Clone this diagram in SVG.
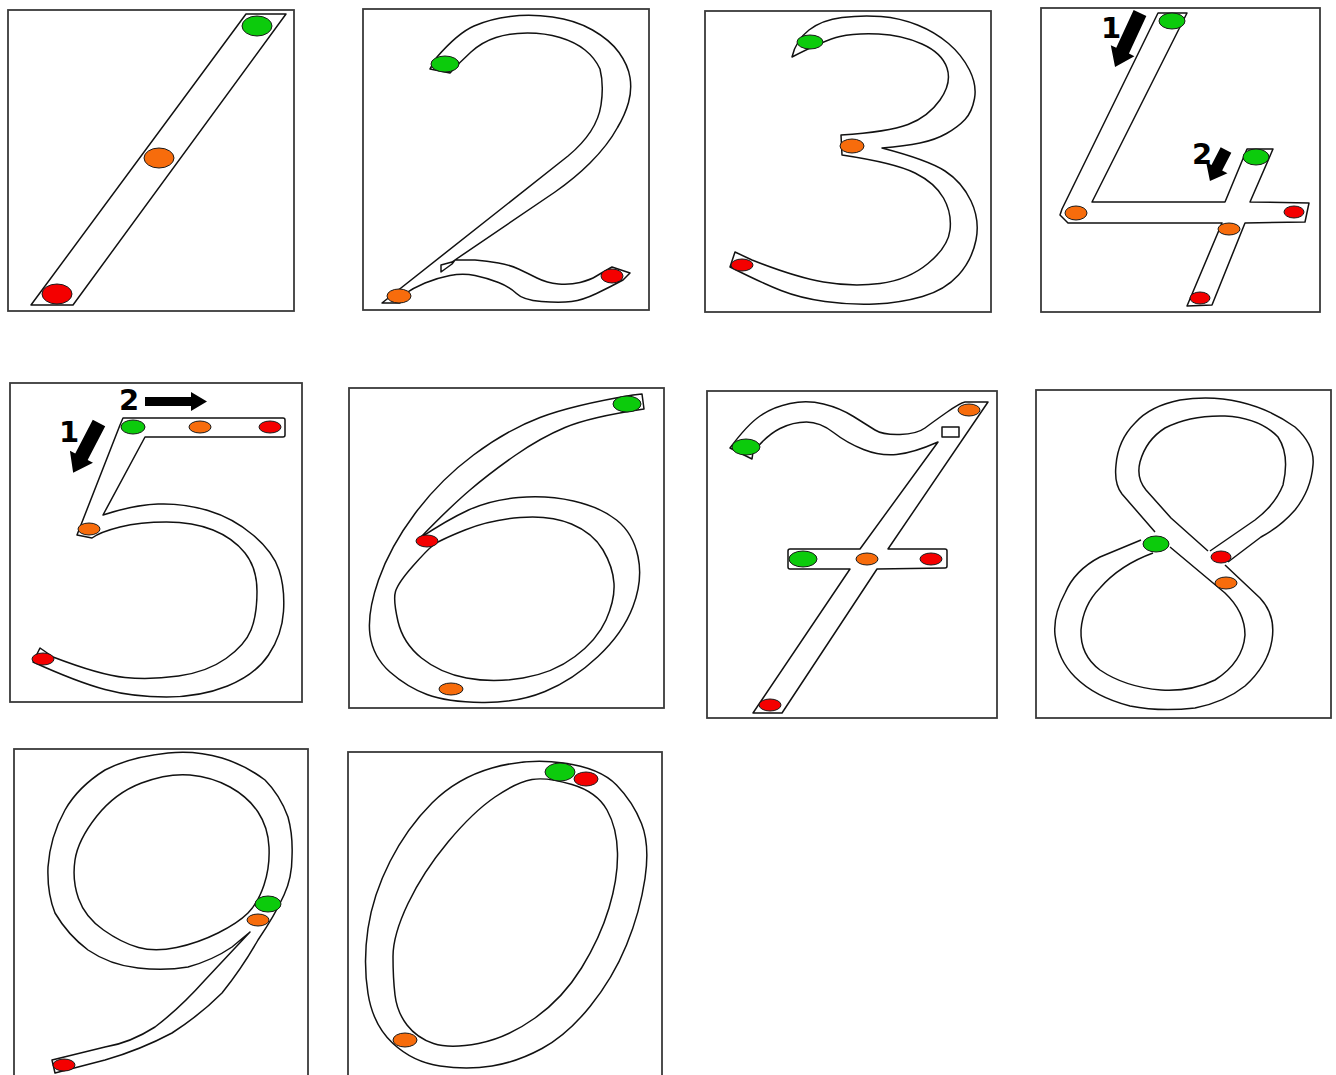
<svg xmlns="http://www.w3.org/2000/svg" width="1336" height="1075" viewBox="0 0 1336 1075">
<style>
.frame{fill:#fff;stroke:#3a3a3a;stroke-width:1.8}
.shape{fill:#fff;stroke:#111;stroke-width:1.5;stroke-linejoin:round}
.line{fill:none;stroke:#111;stroke-width:1.5;stroke-linejoin:round}
.g{fill:#0ccb0c;stroke:#1a1a1a;stroke-width:1}
.o{fill:#f76c0c;stroke:#1a1a1a;stroke-width:1}
.r{fill:#f40000;stroke:#1a1a1a;stroke-width:1}
.arrow{fill:#000}
.num{font-family:"DejaVu Sans","Liberation Sans",sans-serif;font-weight:bold;font-size:29px;fill:#000}
</style>
<rect width="1336" height="1075" fill="#fff"/>

<g id="digit-1">
<rect class="frame" x="8" y="10" width="286" height="301"/>
<polygon class="shape" points="246,14 286,14 73,305 31,305"/>
<ellipse class="g" cx="257" cy="26" rx="15" ry="10"/>
<ellipse class="o" cx="159" cy="158" rx="15" ry="10"/>
<ellipse class="r" cx="57" cy="294" rx="15" ry="10"/>
</g>

<g id="digit-2">
<rect class="frame" x="363" y="9" width="286" height="301"/>
<path class="shape" d="M430,69 L437,57 Q458,33 474,26 Q490,19 510,16.5 Q530,14 552.5,17 Q575,20 592.5,30 Q610,40 619,52.5 Q628,65 630,77.5 Q632,90 628.5,102.5 Q625,115 617.5,127.5 Q608,145 590,163 Q575,178 555,192 L452,262 L441,265 L441,272 L452,264 L455,260 L475,260 Q487,261 498.5,263 Q510,265 518.5,269 Q527,273 537,278 Q547,283 558.5,284 Q570,285 580,282.5 Q590,280 596.5,276 Q603,272 612,267 L630,273 L623,280 Q610,287 596.5,293.5 Q583,300 571.5,301.5 Q560,303 541.5,301.5 Q523,300 516.5,293.5 Q510,287 498.5,282.5 Q487,278 475,275.5 Q463,273 450,275.5 Q437,278 425,283 Q413,288 403,295 L400,303 L382,303 L568,156 Q597,132 601,105 Q604,85 600,69 Q595,58 585,50 Q575,42 560,37.5 Q545,33 527.5,33 Q510,33 496,37.5 Q482,42 471,52 Q460,62 450,73 Z"/>
<ellipse class="g" cx="445" cy="64" rx="14" ry="8"/>
<ellipse class="o" cx="399" cy="296" rx="12" ry="7"/>
<ellipse class="r" cx="612" cy="276" rx="11" ry="7"/>
</g>

<g id="digit-3">
<rect class="frame" x="705" y="11" width="286" height="301"/>
<path class="shape" d="M792,57 Q796,40 809,30 Q822,20 842,17.5 Q862,15 881,16.5 Q900,18 917.5,25 Q935,32 948.5,43.5 Q962,55 969.5,70 Q977,85 974.5,98.5 Q972,112 965,119.5 Q958,127 946.5,133.5 Q935,140 920,143 Q905,146 882,148 Q928,160 945,171 Q962,182 971,201 Q980,220 976,240 Q972,260 958.5,275 Q945,290 922.5,296.5 Q900,303 875,304 Q850,305 825,301.5 Q800,298 781,290.5 Q762,283 730,267 L735,252 L752,260 Q795,277 823.5,282 Q852,287 880,283.5 Q908,280 928,263.5 Q948,247 950,230 Q952,213 943.5,198 Q935,183 915,173 Q895,163 842,155 L841,135 Q888,132 908,124.5 Q928,117 940,100 Q952,83 947,68 Q942,53 922,44 Q902,35 878.5,34 Q855,33 840,36.5 Q825,40 792,57 Z"/>
<ellipse class="g" cx="810" cy="42" rx="13" ry="7"/>
<ellipse class="o" cx="852" cy="146" rx="12" ry="7"/>
<ellipse class="r" cx="742" cy="265" rx="11" ry="6"/>
</g>

<g id="digit-4">
<rect class="frame" x="1041" y="8" width="279" height="304"/>
<polygon class="shape" points="1158,13 1187,13 1092,202 1225,202 1247,149 1273,149 1250,202 1309,203 1305,222 1245,223 1212,305 1187,306 1222,223 1068,223 1060,215 1062,209"/>
<ellipse class="g" cx="1172" cy="21" rx="13" ry="8"/>
<ellipse class="g" cx="1256" cy="157" rx="13" ry="8"/>
<ellipse class="o" cx="1076" cy="213" rx="11" ry="7"/>
<ellipse class="r" cx="1294" cy="212" rx="10" ry="6"/>
<ellipse class="o" cx="1229" cy="229" rx="11" ry="6"/>
<ellipse class="r" cx="1200" cy="298" rx="10" ry="6"/>
<text class="num" x="1111" y="38" text-anchor="middle">1</text>
<polygon class="arrow" transform="translate(1140,13) rotate(114.8)" points="0,-7 41.5,-7 41.5,-13 59.5,0 41.5,13 41.5,7 0,7"/>
<text class="num" x="1202" y="164" text-anchor="middle">2</text>
<polygon class="arrow" transform="translate(1226,150) rotate(117.3)" points="0,-6 20,-6 20,-12 35,0 20,12 20,6 0,6"/>
</g>

<g id="digit-5">
<rect class="frame" x="10" y="383" width="292" height="319"/>
<path class="shape" d="M123,418 L283,418 Q285,418 285,420 L285,435 Q285,437 283,437 L145,437 L103,515 Q133,505 158,504 Q183,503 208,510.5 Q233,518 253,535 Q273,552 279,570 Q285,588 283.5,611.5 Q282,635 268.5,655 Q255,675 227.5,686 Q200,697 166.5,697 Q133,697 105,689.5 Q77,682 33,662 L40,648 L53,657 Q100,675 125,677.5 Q150,680 178.5,676 Q207,672 226,658.5 Q245,645 251,630 Q257,615 257,591.5 Q257,568 245,553 Q233,538 213,530 Q193,522 166.5,522 Q140,522 120,527 Q100,532 92,538 L77,535 L120,425 Z"/>
<ellipse class="g" cx="133" cy="427" rx="12" ry="7"/>
<ellipse class="o" cx="200" cy="427" rx="11" ry="6"/>
<ellipse class="r" cx="270" cy="427" rx="11" ry="6"/>
<ellipse class="o" cx="89" cy="529" rx="11" ry="6"/>
<ellipse class="r" cx="43" cy="659" rx="11" ry="6"/>
<text class="num" x="129" y="410" text-anchor="middle">2</text>
<polygon class="arrow" points="145,397 191,397 191,392 207,401.5 191,411 191,406 145,406"/>
<text class="num" x="69" y="442" text-anchor="middle">1</text>
<polygon class="arrow" transform="translate(99,423) rotate(117.5)" points="0,-7 38,-7 38,-13 56,0 38,13 38,7 0,7"/>
</g>

<g id="digit-6">
<rect class="frame" x="349" y="388" width="315" height="320"/>
<path class="shape" d="M633,395 Q573,405 540,417.5 Q507,430 473.5,455 Q440,480 415,513.5 Q390,547 378.5,580 Q367,613 370,635 Q373,657 390,672 Q407,687 427,694.5 Q447,702 482,702.5 Q517,703 545,691.5 Q573,680 598,656.5 Q623,633 633,606.5 Q643,580 638,556.5 Q633,533 616.5,520 Q600,507 573.5,501 Q547,495 518.5,497.5 Q490,500 468.5,510 Q447,520 420,538 Q450,507 470,490 Q490,473 515,455.5 Q540,438 565,427.5 Q590,417 644,409 L642,394 Z"/>
<path class="shape" d="M433.5,545 Q440,540 465,530 Q490,520 520,517.5 Q550,515 571.5,524 Q593,533 603,550 Q613,567 614,583.5 Q615,600 606,620 Q597,640 575,656.5 Q553,673 523,678 Q493,683 466.5,678 Q440,673 421.5,658 Q403,643 398,621.5 Q393,600 395.5,591.5 Q398,583 412.5,566.5 Q427,550 433.5,545 Z"/>
<ellipse class="g" cx="627" cy="404" rx="14" ry="8"/>
<ellipse class="r" cx="427" cy="541" rx="11" ry="6"/>
<ellipse class="o" cx="451" cy="689" rx="12" ry="6"/>
</g>

<g id="digit-7">
<rect class="frame" x="707" y="391" width="290" height="327"/>
<path class="shape" d="M730,448 Q747,425 760,416 Q773,407 790,403.5 Q807,400 823.5,404 Q840,408 853.5,416.5 Q867,425 875,430 Q883,435 900,434.5 Q917,434 925,428 Q933,422 946.5,412.5 Q960,403 965,402 L988,402 L888,549 L945,549 Q947,549 947,551 L947,566 Q947,568 945,568 L877,569 L782,713 L753,713 L850,569 L790,569 Q788,569 788,567 L788,551 Q788,549 790,549 L860,549 L938,442 Q913,453 896.5,454.5 Q880,456 863.5,449.5 Q847,443 833.5,432.5 Q820,422 806.5,422 Q793,422 780,428.5 Q767,435 753,452 L752,459 Z"/>
<rect class="shape" x="942" y="427" width="17" height="10"/>
<ellipse class="g" cx="746" cy="447" rx="14" ry="8"/>
<ellipse class="o" cx="969" cy="410" rx="11" ry="6"/>
<ellipse class="g" cx="803" cy="559" rx="14" ry="8"/>
<ellipse class="o" cx="867" cy="559" rx="11" ry="6"/>
<ellipse class="r" cx="931" cy="559" rx="11" ry="6"/>
<ellipse class="r" cx="770" cy="705" rx="11" ry="6"/>
</g>

<g id="digit-8">
<rect class="frame" x="1036" y="390" width="295" height="328"/>
<path class="line" d="M1155,532 L1122,494 Q1114,484 1116,465 Q1118,440 1135,423 Q1150,406 1180,400 Q1211,395 1240,402 Q1270,409 1295,427 Q1315,445 1313,465 Q1311,490 1295,510 Q1280,527 1261,537 L1228,562"/>
<path class="line" d="M1208,551 L1171,518 L1146,490 Q1136,478 1140,462 Q1146,440 1165,428 Q1190,415 1225,416 Q1260,418 1278,437 Q1290,455 1283,485 Q1275,505 1255,520 L1210,551"/>
<path class="line" d="M1141,540 L1100,557 Q1075,570 1065,593 Q1053,615 1055,635 Q1058,660 1075,677 Q1095,697 1130,706 Q1160,712 1195,708 Q1225,702 1245,686 Q1268,665 1272,640 Q1276,615 1260,598 L1225,565"/>
<path class="line" d="M1170,547 L1225,593 Q1245,612 1245,635 Q1243,662 1215,680 Q1190,692 1161,690 Q1125,687 1100,670 Q1080,655 1081,630 Q1083,605 1100,588 Q1120,565 1153,553"/>
<ellipse class="g" cx="1156" cy="544" rx="13" ry="8"/>
<ellipse class="r" cx="1221" cy="557" rx="10" ry="6"/>
<ellipse class="o" cx="1226" cy="583" rx="11" ry="6"/>
</g>

<g id="digit-9">
<rect class="frame" x="14" y="749" width="294" height="340"/>
<path class="shape" d="M168,753 Q130,757 105,770 Q78,787 65,810 Q50,837 48,867 Q47,893 55,913 Q68,935 88,950 Q110,965 138,968 Q165,971 188,967 Q213,960 232,947 L250,932 L205,980 Q180,1008 155,1027 Q130,1043 105,1047 L52,1060 L55,1073 L105,1060 Q140,1050 172,1033 Q200,1015 222,993 Q242,968 258,940 Q275,915 284,895 Q292,878 292,857 Q293,835 288,817 Q280,795 265,780 Q245,765 222,758 Q195,750 168,753 Z"/>
<path class="shape" d="M190,775 Q168,773 141.5,783 Q115,793 96.5,816.5 Q78,840 75,860 Q72,880 78.5,898.5 Q85,917 103.5,930 Q122,943 138.5,947.5 Q155,952 176.5,947.5 Q198,943 218,933 Q238,923 248,913 Q258,903 264,885 Q270,867 269,847 Q268,827 258,812 Q248,797 230,787 Q212,777 190,775 Z"/>
<ellipse class="g" cx="268" cy="904" rx="13" ry="8"/>
<ellipse class="o" cx="258" cy="920" rx="11" ry="6"/>
<ellipse class="r" cx="64" cy="1065" rx="11" ry="6"/>
</g>

<g id="digit-0">
<rect class="frame" x="348" y="752" width="314" height="340"/>
<path class="shape" d="M492,768 Q527,758 563.5,763 Q600,768 616.5,785 Q633,802 641.5,823.5 Q650,845 645,878.5 Q640,912 626.5,945 Q613,978 590,1006.5 Q567,1035 542,1048.5 Q517,1062 492,1066 Q467,1070 440,1066 Q413,1062 393,1043.5 Q373,1025 368,993.5 Q363,962 368,928.5 Q373,895 390,861.5 Q407,828 432,803 Q457,778 492,768 Z"/>
<path class="shape" d="M532,779.5 Q547,777 572,784.5 Q597,792 607,810 Q617,828 617.5,853 Q618,878 609,908 Q600,938 581.5,968 Q563,998 535,1018 Q507,1038 478.5,1043.5 Q450,1049 433.5,1043.5 Q417,1038 407,1025 Q397,1012 395,995 Q393,978 393,956.5 Q393,935 408,903.5 Q423,872 448,842 Q473,812 495,797 Q517,782 532,779.5 Z"/>
<ellipse class="g" cx="560" cy="772" rx="15" ry="9"/>
<ellipse class="r" cx="586" cy="779" rx="12" ry="7"/>
<ellipse class="o" cx="405" cy="1040" rx="12" ry="7"/>
</g>
</svg>
